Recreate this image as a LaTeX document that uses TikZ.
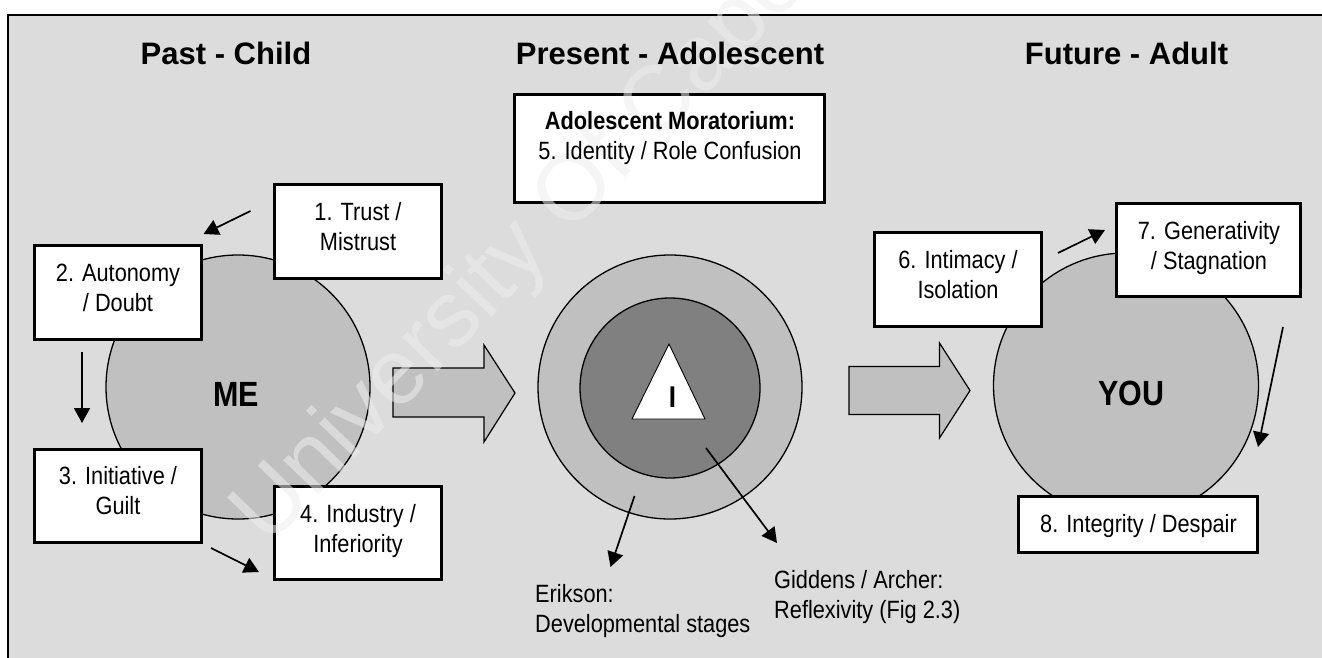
\documentclass[tikz,border=0pt]{standalone}
\usepackage{fontspec}
\setmainfont{Liberation Sans}
\newfontfamily\narrowsans[FakeStretch=0.87]{Liberation Sans}
\usetikzlibrary{arrows.meta}

\definecolor{panelgray}{RGB}{220,220,220}
\definecolor{discgray}{RGB}{192,192,192}
\definecolor{coregray}{RGB}{128,128,128}
\definecolor{markgray}{RGB}{238,238,238}

\begin{document}
\begin{tikzpicture}[x=1pt,y=-1pt,
  stagebox/.style={draw=black, line width=3.2pt, fill=white, inner sep=0pt},
  % multi-line texts are placed by the baseline of their last line
  stagetext/.style={font=\narrowsans\fontsize{25}{30}\selectfont, align=center, anchor=base, inner sep=0pt},
  notetext/.style={font=\narrowsans\fontsize{25}{30}\selectfont, align=left, anchor=base west, inner sep=0pt},
  heading/.style={font=\bfseries\fontsize{31}{36}\selectfont, anchor=base, inner sep=0pt},
  selflabel/.style={font=\narrowsans\bfseries\fontsize{35}{40}\selectfont, anchor=base, inner sep=0pt},
  stagearrow/.style={line width=1.7pt, -{Triangle[length=15pt,width=16pt]}},
  disc/.style={circle, draw=black, line width=1.3pt, fill=discgray, inner sep=0pt},
  flow/.style={draw=black, line width=1.2pt, fill=discgray, line join=miter},
]
\useasboundingbox (0,0) rectangle (1322,658);
\clip (0,0) rectangle (1322,658);
\fill[white] (0,0) rectangle (1322,658);

% framed grey panel
\draw[line width=2pt, fill=panelgray] (8,15) rectangle (1340,690);

% the three selves
\node[disc, minimum size=264pt] (me) at (238,387) {};
\node[disc, minimum size=264pt] (selfring) at (670,387) {};
\node[circle, draw=black, line width=1.3pt, fill=coregray, inner sep=0pt,
      minimum size=180pt] (selfcore) at (670,388) {};
\node[disc, minimum size=265pt] (you) at (1126,385.5) {};

\draw[fill=white, line width=0.9pt, line join=miter]
  (669,344) -- (705,419) -- (632,419) -- cycle;

% block arrows between the stages of life
\draw[flow] (393,368) -- (484,368) -- (484,345) -- (515,393) -- (484,442)
  -- (484,417) -- (393,417) -- cycle;
\draw[flow] (849,366.5) -- (939.5,366.5) -- (939.5,343) -- (970,390.5)
  -- (939.5,438) -- (939.5,414.5) -- (849,414.5) -- cycle;

% Erikson's stages
\node[stagebox, minimum width=167pt, minimum height=94pt] (b1) at (358,231.5) {};
\node[stagebox, minimum width=167pt, minimum height=94pt] (b2) at (118,292.5) {};
\node[stagebox, minimum width=167pt, minimum height=93pt] (b3) at (118,496) {};
\node[stagebox, minimum width=167pt, minimum height=93pt] (b4) at (358,533) {};
\node[stagebox, minimum width=310pt, minimum height=108pt] (b5) at (669.5,148.5) {};
\node[stagebox, minimum width=167pt, minimum height=94pt] (b6) at (958,279.5) {};
\node[stagebox, minimum width=184pt, minimum height=93pt] (b7) at (1208.5,250) {};
\node[stagebox, minimum width=239pt, minimum height=56pt] (b8) at (1138,524.5) {};

% arrows between stages
\coordinate (a12s) at (250.5,211);   \coordinate (a12e) at (203.5,234);
\coordinate (a23s) at (82,352);      \coordinate (a23e) at (82,423);
\coordinate (a34s) at (211,548);     \coordinate (a34e) at (259,572);
\coordinate (a67s) at (1058,253);    \coordinate (a67e) at (1105,230);
\coordinate (a78s) at (1283,327);    \coordinate (a78e) at (1258,447);
\coordinate (aEs) at (634.5,496);    \coordinate (aEe) at (610.5,567);
\coordinate (aGs) at (706,448);      \coordinate (aGe) at (777,543);

\draw[stagearrow] (a12s) -- (a12e);
\draw[stagearrow] (a23s) -- (a23e);
\draw[stagearrow] (a34s) -- (a34e);
\draw[stagearrow] (a67s) -- (a67e);
\draw[stagearrow] (a78s) -- (a78e);
\draw[stagearrow] (aEs) -- (aEe);
\draw[stagearrow] (aGs) -- (aGe);

% faint diagonal watermark, beneath the lettering
\node[font=\fontsize{93}{93}\selectfont, text=markgray, text opacity=0.55,
      rotate=46, anchor=base west, inner sep=0pt] (mark) at (268,548)
      {University Of Cape Town};

% column headings
\node[heading] (past) at (226,65) {Past - Child};
\node[heading] (present) at (670,65) {Present - Adolescent};
\node[heading] (future) at (1126.5,65) {Future - Adult};

\node[selflabel] (melabel) at (236,406.7) {ME};
\node[selflabel] (youlabel) at (1131.5,405) {YOU};
\node[font=\narrowsans\bfseries\fontsize{30}{34}\selectfont, anchor=base,
      inner sep=0pt] (ilabel) at (672.5,407) {I};

\node[stagetext] (t1) at (358,250) {1. Trust /\\Mistrust};
\node[stagetext] (t2) at (118,311.7) {2. Autonomy\\/ Doubt};
\node[stagetext] (t3) at (118,514) {3. Initiative /\\Guilt};
\node[stagetext] (t4) at (358,552) {4. Industry /\\Inferiority};
\node[stagetext] (t5) at (670,160) {\bfseries Adolescent Moratorium:\\5. Identity / Role Confusion};
\node[stagetext] (t6) at (958,298.3) {6. Intimacy /\\Isolation};
\node[stagetext] (t7) at (1209,269.3) {7. Generativity\\/ Stagnation};
\node[stagetext] (t8) at (1138.5,532.7) {8. Integrity / Despair};

% sources of the two layers
\node[notetext] (erikson) at (535,632) {Erikson:\\Developmental stages};
\node[notetext] (giddens) at (774,618.5) {Giddens / Archer:\\Reflexivity (Fig 2.3)};
\end{tikzpicture}
\end{document}
